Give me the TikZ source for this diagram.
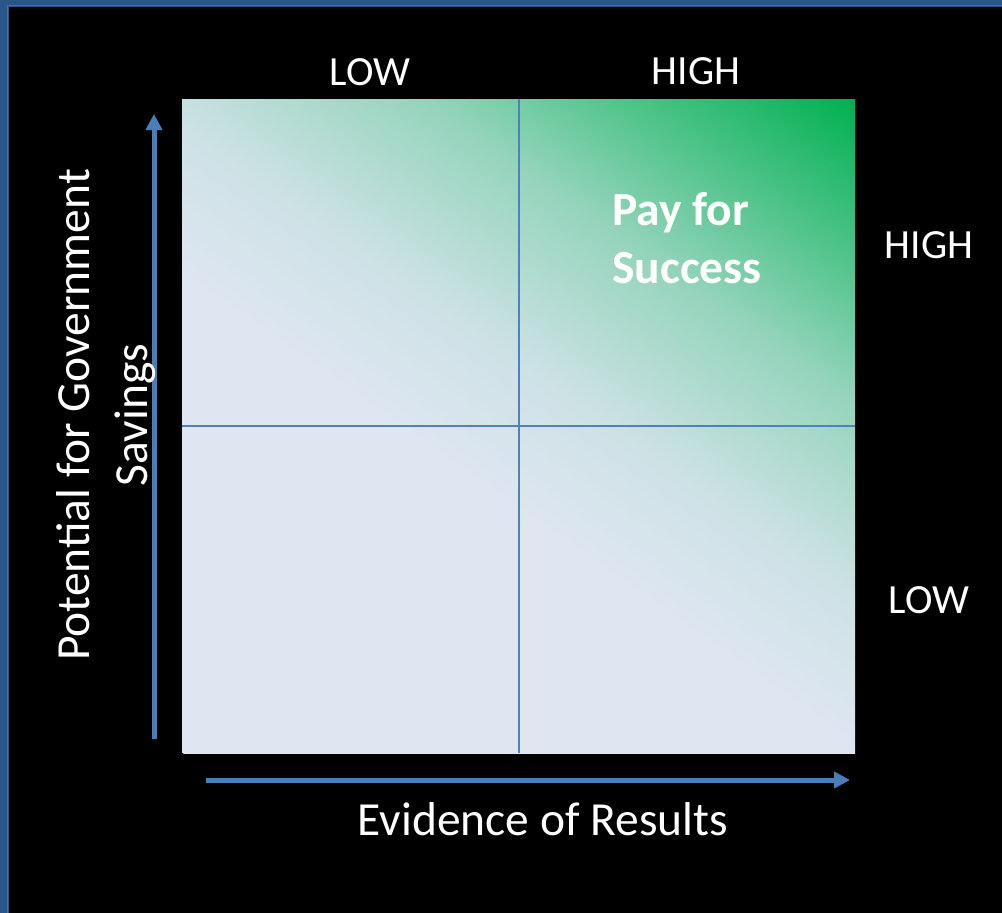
\documentclass[tikz,border=0pt]{standalone}
\usepackage{fontspec}
\setmainfont{Carlito}
\usetikzlibrary{arrows.meta}

\definecolor{lav}{HTML}{DFE6F2}
\definecolor{grn}{HTML}{00B050}
\definecolor{axisblue}{HTML}{4A7EBB}
\definecolor{gridblue}{HTML}{4F81BD}
\definecolor{framedark}{HTML}{2A5588}
\definecolor{framelight}{HTML}{4272A8}
\colorlet{gA}{grn!8!lav}
\colorlet{gB}{grn!33!lav}

% diagonal fade from the pale base colour to full green in the upper right
\pgfdeclarehorizontalshading{pfsgrad}{100bp}{%
  color(0bp)=(lav); color(45.7bp)=(lav); color(52.8bp)=(gA);
  color(61.5bp)=(gB); color(75bp)=(grn); color(100bp)=(grn)}

\tikzset{
  axisarrow/.style={draw=axisblue, line width=5pt,
    -{Triangle[length=16pt,width=16pt]}},
  quadline/.style={draw=gridblue, line width=2.2pt},
  lbl/.style={text=white, inner sep=0pt, font=\fontsize{41.5}{50}\selectfont},
  title/.style={text=white, inner sep=0pt, font=\fontsize{47.5}{58}\selectfont},
}

\begin{document}
\begin{tikzpicture}[x=1pt,y=-1pt]
  \path[use as bounding box] (0,0) rectangle (1002,913);
  \fill[black] (0,0) rectangle (1002,913);

  % slide frame along the top and left edges
  \fill[framedark] (0,0) rectangle (1002,7);
  \fill[framedark] (0,0) rectangle (9,913);
  \draw[framelight, line width=1.6pt] (1002,5.5) -- (7.5,5.5) -- (7.5,913);

  % quadrant square
  \coordinate (nw) at (182,99);
  \coordinate (se) at (855,753);
  \coordinate (midtop) at (519,99);
  \coordinate (midbot) at (519,753);
  \coordinate (midleft) at (182,426);
  \coordinate (midright) at (855,426);
  \begin{scope}
    \clip (nw) rectangle (se);
    \begin{scope}[transform canvas={rotate=55}]
      \shade[shading=pfsgrad] (-512,-1600) rectangle (409,1600);
    \end{scope}
  \end{scope}
  \draw[quadline] (midtop) -- (midbot);
  \draw[quadline] (midleft) -- (midright);

  % axes
  \coordinate (yfrom) at (154,739);
  \coordinate (yto) at (154,114);
  \coordinate (xfrom) at (206,780);
  \coordinate (xto) at (850,780);
  \draw[axisarrow] (yfrom) -- (yto);
  \draw[axisarrow] (xfrom) -- (xto);

  % labels
  \node[lbl, anchor=base] (lowtop) at (370,85) {LOW};
  \node[lbl, anchor=base] (hightop) at (696,84) {HIGH};
  \node[lbl, anchor=base] (highright) at (929,258) {HIGH};
  \node[lbl, anchor=base] (lowright) at (929,613) {LOW};
  \node[title, anchor=base] (xtitle) at (543,835) {Evidence of Results};
  \node[title, rotate=90, align=center] (ytitle) at (106,415)
    {Potential for Government\\Savings};
  \node[title, font=\fontsize{47.5}{58}\selectfont\bfseries, anchor=base west,
        align=left] (pfs) at (612,283) {Pay for\\Success};
\end{tikzpicture}
\end{document}
